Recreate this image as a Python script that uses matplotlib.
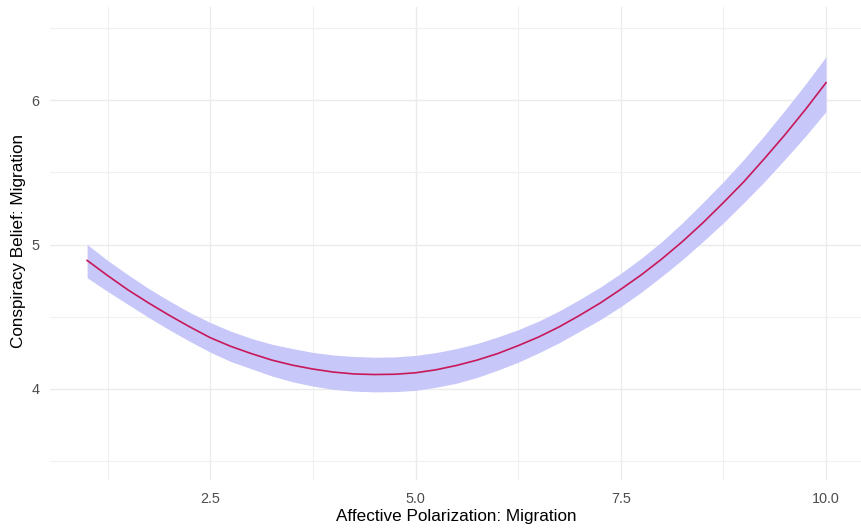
import matplotlib
matplotlib.use("Agg")
import matplotlib.pyplot as plt
from matplotlib.ticker import MultipleLocator

plt.rcParams['font.family'] = ['Liberation Sans', 'DejaVu Sans']

# Data
x_vals = [1.0, 1.25, 1.5, 1.75, 2.0, 2.25, 2.5, 2.75, 3.0, 3.25, 3.5, 3.75, 4.0, 4.25, 4.5,
          4.75, 5.0, 5.25, 5.5, 5.75, 6.0, 6.25, 6.5, 6.75, 7.0, 7.25, 7.5, 7.75, 8.0,
          8.25, 8.5, 8.75, 9.0, 9.25, 9.5, 9.75, 10.0]
fit = [4.89, 4.785, 4.685, 4.595, 4.51, 4.43, 4.355, 4.295, 4.245, 4.20, 4.165, 4.138, 4.117, 4.104, 4.10,
       4.102, 4.112, 4.133, 4.163, 4.20, 4.245, 4.30, 4.36, 4.43, 4.51, 4.595, 4.69, 4.79, 4.90,
       5.02, 5.15, 5.29, 5.435, 5.595, 5.76, 5.935, 6.12]
lower = [4.77, 4.675, 4.585, 4.495, 4.41, 4.33, 4.255, 4.19, 4.14, 4.09, 4.05, 4.02, 3.997, 3.985, 3.98,
         3.982, 3.99, 4.012, 4.04, 4.08, 4.13, 4.185, 4.25, 4.32, 4.40, 4.48, 4.57, 4.67, 4.78,
         4.895, 5.02, 5.15, 5.29, 5.435, 5.59, 5.75, 5.92]
upper = [5.00, 4.89, 4.79, 4.695, 4.61, 4.53, 4.46, 4.40, 4.35, 4.31, 4.28, 4.253, 4.235, 4.225, 4.22,
         4.222, 4.232, 4.252, 4.28, 4.315, 4.36, 4.41, 4.47, 4.54, 4.62, 4.705, 4.80, 4.905, 5.02,
         5.15, 5.29, 5.435, 5.59, 5.755, 5.93, 6.11, 6.30]

x_ticks = [2.5, 5.0, 7.5, 10.0]
x_tick_labels = ["2.5", "5.0", "7.5", "10.0"]
y_ticks = [4, 5, 6]
y_tick_labels = ["4", "5", "6"]

W, H = 861, 530
fig = plt.figure(figsize=(W / 100, H / 100), dpi=100)
left, right, top, bottom = 50, 861, 7, 480
ax = fig.add_axes([left / W, (H - bottom) / H, (right - left) / W, (bottom - top) / H])

ax.fill_between(x_vals, lower, upper, color='#c7c7f9', linewidth=0, zorder=2)
ax.plot(x_vals, fit, color='#c8185a', linewidth=1.2, zorder=3)

ax.set_xlim(0.548, 10.426)
ax.set_ylim(3.37, 6.644)

ax.set_xticks(x_ticks)
ax.set_xticklabels(x_tick_labels)
ax.set_yticks(y_ticks)
ax.set_yticklabels(y_tick_labels)
ax.xaxis.set_minor_locator(MultipleLocator(1.25))
ax.yaxis.set_minor_locator(MultipleLocator(0.5))

ax.grid(which='major', color='#ebebeb', linewidth=1.0, zorder=0)
ax.grid(which='minor', color='#f0f0f0', linewidth=0.8, zorder=0)
ax.set_axisbelow(True)
for s in ax.spines.values():
    s.set_visible(False)
ax.tick_params(which='both', length=0)
ax.tick_params(axis='x', pad=8.5, labelsize=10.4, labelcolor='#4d4d4d')
ax.tick_params(axis='y', pad=7.5, labelsize=10.4, labelcolor='#4d4d4d')

fig.text(456 / W, 1 - 516 / H, "Affective Polarization: Migration", ha='center', va='center',
         fontsize=12.3, color='black')
fig.text(19 / W, 1 - 241 / H, "Conspiracy Belief: Migration", ha='center', va='center',
         rotation=90, fontsize=12.3, color='black')

fig.savefig("out.png", dpi=100)
